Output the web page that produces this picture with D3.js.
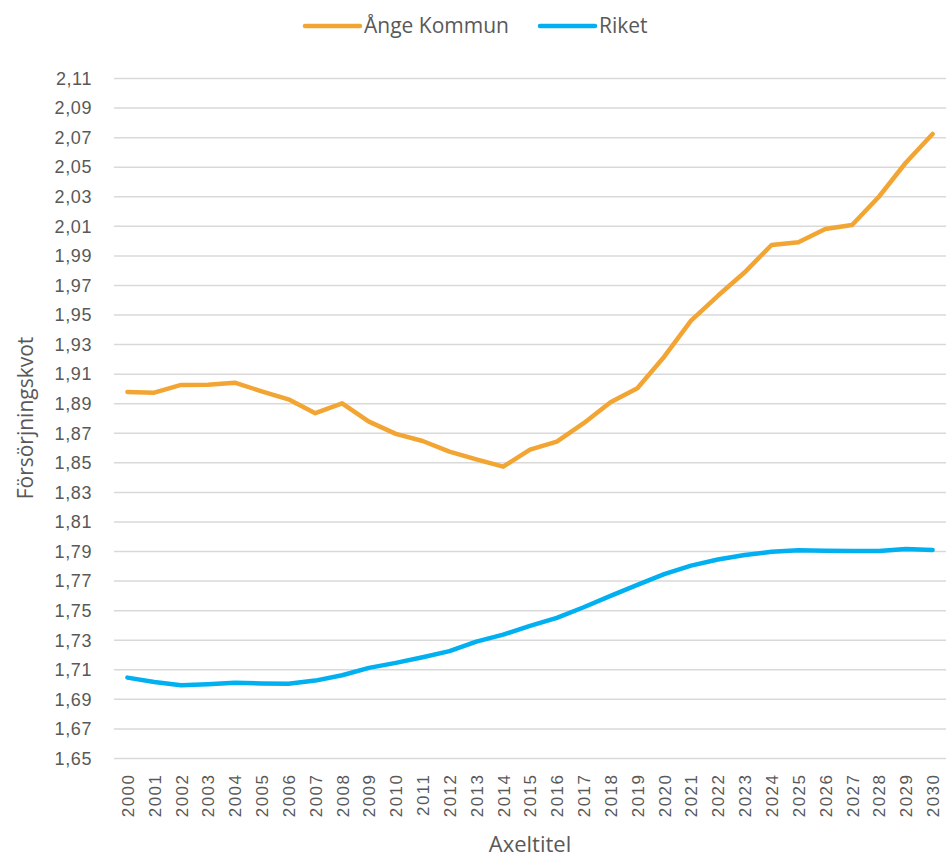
<!DOCTYPE html>
<html lang="sv">
<head>
  <meta charset="utf-8" />
  <title>Försörjningskvot</title>
  <style>
    body { margin: 0; background: #ffffff; }
    svg { display: block; font-family: "Open Sans", sans-serif; }
    .grid line { stroke: #d9d9d9; stroke-width: 1.5; }
    .axis text { fill: #595959; }
  </style>
</head>
<body>
  <svg width="946" height="858"></svg>

  <script src="https://d3js.org/d3.v7.min.js"></script>
  <script>
    const years = d3.range(2000, 2031).map(String);
    const ange = [1.898, 1.8975, 1.9027, 1.9029, 1.9042, 1.8984, 1.893, 1.8836, 1.8903, 1.8779,
                  1.8696, 1.8648, 1.8576, 1.8524, 1.8474, 1.859, 1.8644, 1.8768, 1.891, 1.9005,
                  1.9218, 1.9462, 1.963, 1.9789, 1.9974, 1.9992, 2.0082, 2.0109, 2.03, 2.053, 2.0725];
    const riket = [1.7047, 1.7018, 1.6996, 1.7003, 1.7013, 1.7007, 1.7005, 1.7027, 1.7063, 1.7113,
                   1.7147, 1.7185, 1.7226, 1.7291, 1.7338, 1.7397, 1.7451, 1.7523, 1.76, 1.7674,
                   1.7747, 1.7805, 1.7846, 1.7877, 1.7898, 1.7909, 1.7906, 1.7904, 1.7904, 1.7918, 1.791];
    const yTicks = d3.range(0, 24).map(i => +(1.65 + i * 0.02).toFixed(2));

    const series = [
      { name: "Ånge Kommun", values: ange, color: "#f2a533" },
      { name: "Riket", values: riket, color: "#00b0f0" }
    ];

    const margin = { left: 114, right: 0, top: 78.5, bottom: 99.5 };
    const width = 946, height = 858;

    const svg = d3.select("svg");

    const x = d3.scalePoint()
      .domain(years)
      .range([margin.left, width - margin.right])
      .padding(0.5);

    const y = d3.scaleLinear()
      .domain([1.65, 2.11])
      .range([height - margin.bottom, margin.top]);

    const fmt = d => d3.format(".2f")(d).replace(".", ",");

    // gridlines
    svg.append("g").attr("class", "grid")
      .selectAll("line")
      .data(yTicks)
      .join("line")
      .attr("x1", margin.left)
      .attr("x2", width - margin.right)
      .attr("y1", d => y(d))
      .attr("y2", d => y(d));

    // y axis
    const yAxis = svg.append("g").attr("class", "axis")
      .attr("transform", `translate(${margin.left},0)`)
      .call(d3.axisLeft(y).tickValues(yTicks).tickFormat(fmt).tickSize(0).tickPadding(22));
    yAxis.select(".domain").remove();
    yAxis.selectAll("text")
      .style("font-size", "18px")
      .style("letter-spacing", "0.6px");

    // x axis
    const xAxis = svg.append("g").attr("class", "axis")
      .attr("transform", `translate(0,${height - margin.bottom})`)
      .call(d3.axisBottom(x).tickSize(0));
    xAxis.select(".domain").remove();
    xAxis.selectAll("text")
      .style("font-size", "17px")
      .style("letter-spacing", "1.5px")
      .attr("transform", "rotate(-90)")
      .attr("text-anchor", "end")
      .attr("x", -15)
      .attr("y", 0)
      .attr("dy", "0.35em");

    // lines
    const line = d3.line()
      .x((d, i) => x(years[i]))
      .y(d => y(d));

    svg.append("g")
      .selectAll("path")
      .data(series)
      .join("path")
      .attr("fill", "none")
      .attr("stroke", d => d.color)
      .attr("stroke-width", 4.5)
      .attr("stroke-linejoin", "round")
      .attr("stroke-linecap", "round")
      .attr("d", d => line(d.values));

    // axis titles
    svg.append("text")
      .attr("transform", "translate(33,418) rotate(-90)")
      .attr("text-anchor", "middle")
      .attr("fill", "#595959")
      .style("font-size", "21px")
      .text("Försörjningskvot");

    svg.append("text")
      .attr("x", 530)
      .attr("y", 852)
      .attr("text-anchor", "middle")
      .attr("fill", "#595959")
      .style("font-size", "22px")
      .text("Axeltitel");

    // legend
    const legendX = [305, 540];
    const legend = svg.append("g")
      .selectAll("g")
      .data(series)
      .join("g")
      .attr("transform", (d, i) => `translate(${legendX[i]},26)`);
    legend.append("line")
      .attr("x1", 0).attr("x2", 55)
      .attr("stroke", d => d.color)
      .attr("stroke-width", 4.5)
      .attr("stroke-linecap", "round");
    legend.append("text")
      .attr("x", 59)
      .attr("dy", "0.35em")
      .attr("fill", "#595959")
      .style("font-size", "21px")
      .text(d => d.name);
  </script>
</body>
</html>
